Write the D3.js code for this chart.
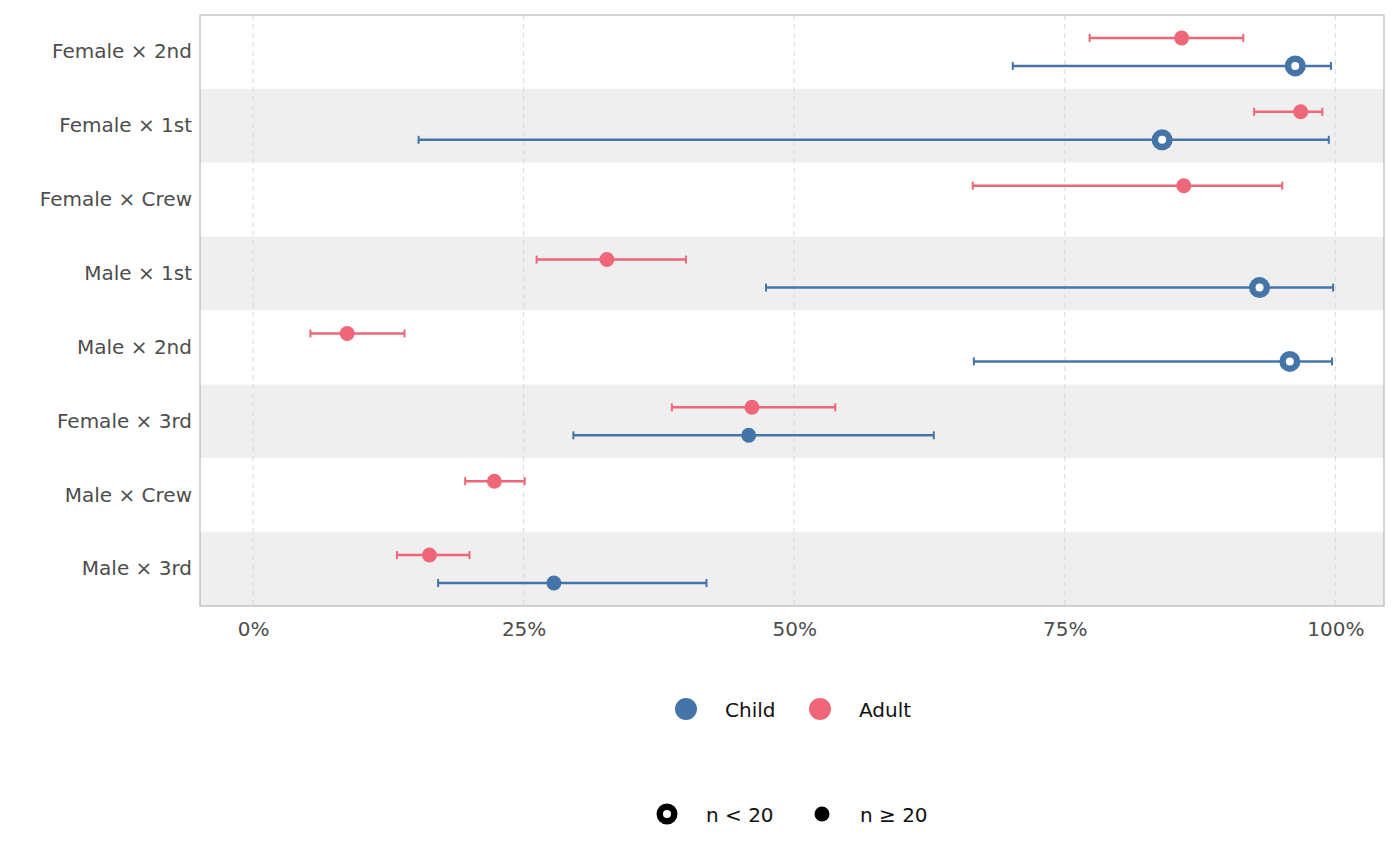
<!DOCTYPE html>
<meta charset="utf-8">
<script src="https://d3js.org/d3.v7.min.js"></script>
<style>body{margin:0;background:#fff}text{font-family:"DejaVu Sans",sans-serif}</style>
<div id="chart"></div>
<script>
// rows, top to bottom
var groups = ["Female × 2nd","Female × 1st","Female × Crew","Male × 1st","Male × 2nd","Female × 3rd","Male × Crew","Male × 3rd"];
// adult estimates (%), lower, upper
var adultEst = [85.8, 96.8, 86.0, 32.7, 8.7, 46.1, 22.3, 16.3];
var adultLo  = [77.3, 92.5, 66.5, 26.2, 5.3, 38.7, 19.6, 13.3];
var adultHi  = [91.5, 98.8, 95.1, 40.0, 14.0, 53.8, 25.1, 20.0];
var adultSmall = [false,false,false,false,false,false,false,false];
// child (null = none)
var childEst = [96.3, 84.0, null, 93.0, 95.8, 45.8, null, 27.8];
var childLo  = [70.2, 15.3, null, 47.4, 66.6, 29.6, null, 17.1];
var childHi  = [99.6, 99.4, null, 99.8, 99.7, 62.9, null, 41.9];
var childSmall = [true, true, false, true, true, false, false, false];
var ticks = [0, 25, 50, 75, 100];

var W = 1400, H = 866;
var L = 200, R = 1384, T = 15, B = 606;
var svg = d3.select("#chart").append("svg").attr("width", W).attr("height", H);

var x = d3.scaleLinear().domain([-4.9, 104.5]).range([L, R]);
var y = d3.scaleBand().domain(groups).range([T, B]);
var blue = "#4575a8", red = "#ee6677";

// bands
svg.selectAll(".band").data(groups).enter().append("rect")
  .attr("x", L).attr("width", R - L)
  .attr("y", function(d) { return y(d); }).attr("height", y.bandwidth())
  .attr("fill", function(d, i) { return i % 2 ? "#efefef" : "#fff"; });

// grid
svg.selectAll(".grid").data(ticks).enter().append("line")
  .attr("x1", function(d) { return x(d); }).attr("x2", function(d) { return x(d); })
  .attr("y1", T).attr("y2", B)
  .attr("stroke", "#d9d9d9").attr("stroke-dasharray", "5,4");

svg.append("rect").attr("x", L).attr("y", T).attr("width", R - L).attr("height", B - T)
  .attr("fill", "none").attr("stroke", "#aaa");

// axes
svg.append("g").attr("transform", "translate(0," + B + ")")
  .call(d3.axisBottom(x).tickValues(ticks).tickFormat(function(d) { return d + "%"; }).tickSize(0).tickPadding(16))
  .call(function(g) { g.select(".domain").remove(); })
  .selectAll("text").attr("font-size", 20).attr("fill", "#4d4d4d").style("font-family", "DejaVu Sans");
svg.append("g").attr("transform", "translate(" + L + ",0)")
  .call(d3.axisLeft(y).tickSize(0).tickPadding(8))
  .call(function(g) { g.select(".domain").remove(); })
  .selectAll("text").attr("font-size", 20).attr("fill", "#4d4d4d").style("font-family", "DejaVu Sans");

function drawSeries(est, lo, hi, small, color, off) {
  var data = groups.map(function(g, i) { return {g: g, e: est[i], lo: lo[i], hi: hi[i], s: small[i]}; })
    .filter(function(d) { return d.e !== null; });
  var g = svg.append("g");
  var cy = function(d) { return y(d.g) + y.bandwidth() / 2 + off; };
  g.selectAll(".ci").data(data).enter().append("line")
    .attr("x1", function(d) { return x(d.lo); }).attr("x2", function(d) { return x(d.hi); })
    .attr("y1", cy).attr("y2", cy).attr("stroke", color).attr("stroke-width", 2.5);
  ["lo", "hi"].forEach(function(k) {
    g.selectAll(".cap" + k).data(data).enter().append("line")
      .attr("x1", function(d) { return x(d[k]); }).attr("x2", function(d) { return x(d[k]); })
      .attr("y1", function(d) { return cy(d) - 4; }).attr("y2", function(d) { return cy(d) + 4; })
      .attr("stroke", color).attr("stroke-width", 2);
  });
  g.selectAll(".pt").data(data).enter().append("circle")
    .attr("cx", function(d) { return x(d.e); }).attr("cy", cy)
    .attr("r", function(d) { return d.s ? 10.5 : 7.5; }).attr("fill", color);
  g.selectAll(".hole").data(data.filter(function(d) { return d.s; })).enter().append("circle")
    .attr("cx", function(d) { return x(d.e); }).attr("cy", cy).attr("r", 4).attr("fill", "#fff");
}
drawSeries(adultEst, adultLo, adultHi, adultSmall, red, -14);
drawSeries(childEst, childLo, childHi, childSmall, blue, 14);

// legends
var leg1 = [{c: blue, t: "Child", x: 686}, {c: red, t: "Adult", x: 820}];
leg1.forEach(function(d) {
  svg.append("circle").attr("cx", d.x).attr("cy", 709).attr("r", 11).attr("fill", d.c);
  svg.append("text").attr("x", d.x + 39).attr("y", 717).attr("font-size", 20).attr("fill", "#111").text(d.t);
});
svg.append("circle").attr("cx", 667).attr("cy", 814).attr("r", 10.5).attr("fill", "#000");
svg.append("circle").attr("cx", 667).attr("cy", 814).attr("r", 4).attr("fill", "#fff");
svg.append("text").attr("x", 706).attr("y", 822).attr("font-size", 20).attr("fill", "#111").text("n < 20");
svg.append("circle").attr("cx", 822).attr("cy", 814).attr("r", 7.5).attr("fill", "#000");
svg.append("text").attr("x", 860).attr("y", 822).attr("font-size", 20).attr("fill", "#111").text("n ≥ 20");
</script>
